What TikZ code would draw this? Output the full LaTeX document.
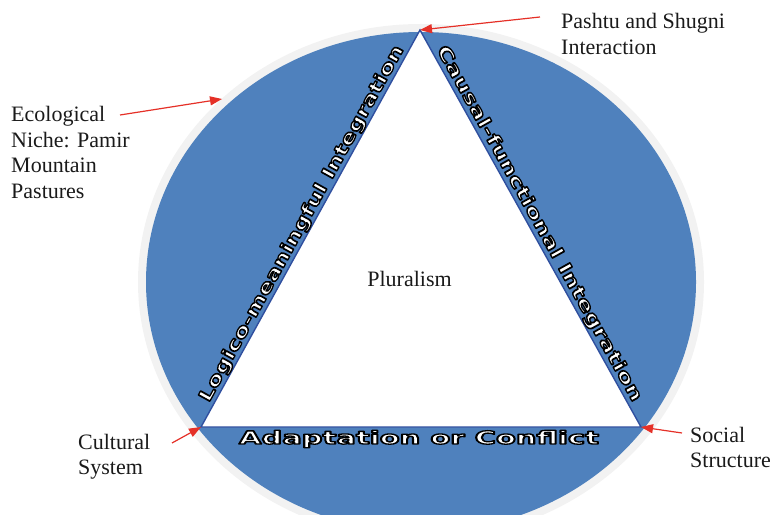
\documentclass[tikz,border=0pt]{standalone}
\usepackage{fontspec}
\setmainfont{Liberation Serif}
\newfontfamily\edgefont{DejaVu Sans}
\usepackage{graphicx}
\usetikzlibrary{arrows.meta}

\definecolor{fillblue}{HTML}{4F81BD}
\definecolor{edgeblue}{HTML}{2F4F9F}
\definecolor{ringgray}{HTML}{F2F2F2}
\definecolor{arrowred}{HTML}{E53027}
\definecolor{labelink}{HTML}{1A1A1A}

% white lettering stroked with a thin black outline (PDF text render mode 2)
\newcommand\haloText[1]{\leavevmode
  {\color{white}%
   \special{pdf:code 2 Tr 1.3 w 1 j 0 0 0 RG}%
   #1%
   \special{pdf:code 0 Tr}}}

\begin{document}
\begin{tikzpicture}[x=1pt,y=1pt,
  sidenote/.style={inner sep=0pt, anchor=base west, text=labelink,
    font=\fontsize{22}{25.5}\selectfont},
  pointer/.style={draw=arrowred, line width=1.2pt,
    -{Triangle[length=12pt,width=9pt]}},
  edgetext/.style={inner sep=0pt, anchor=base,
    font=\edgefont\bfseries\fontsize{18}{20}\selectfont}]

\useasboundingbox (0,0) rectangle (775,514);
\clip (0,0) rectangle (775,514);

% outer ring and blue disc
\fill[ringgray] (421,232) ellipse [x radius=283, y radius=258];
\fill[fillblue] (421,232) ellipse [x radius=275, y radius=250];

% triangle
\coordinate (apex) at (420,484);
\coordinate (cult) at (201,87);
\coordinate (soc)  at (641,87);
\filldraw[fill=white, draw=edgeblue, line width=1.4pt, line join=miter]
  (apex) -- (cult) -- (soc) -- cycle;

% lettering along the sides
\node[edgetext, rotate=61.12] (logico) at (306.4,287.8)
  {\resizebox{404pt}{\height}{\haloText{Logico-meaningful Integration}}};
\node[edgetext, rotate=-60.9] (causal) at (534.6,287.8)
  {\resizebox{404pt}{\height}{\haloText{Causal-functional Integration}}};
\node[edgetext] (adapt) at (419,70)
  {\resizebox{360pt}{\height}{\haloText{Adaptation or Conflict}}};

\node[text=labelink, font=\fontsize{22}{25.5}\selectfont, anchor=base, inner sep=0pt]
  (plural) at (409.5,227) {Pluralism};

% outside notes
\node[sidenote] (pashtu) at (561,485)
  {\begin{tabular}[t]{@{}l@{}}Pashtu and Shugni\\Interaction\end{tabular}};
\node[sidenote] (niche) at (11,392)
  {\begin{tabular}[t]{@{}l@{}}Ecological\\Niche: Pamir\\Mountain\\Pastures\end{tabular}};
\node[sidenote] (cultural) at (78,65)
  {\begin{tabular}[t]{@{}l@{}}Cultural\\System\end{tabular}};
\node[sidenote] (social) at (690,72)
  {\begin{tabular}[t]{@{}l@{}}Social\\Structure\end{tabular}};

% pointers
\coordinate (pashtuFrom) at (540,497);
\coordinate (nicheFrom)  at (120,399);
\coordinate (nicheTo)    at (222,415);
\coordinate (cultFrom)   at (172,71);
\coordinate (socFrom)    at (682,81);
\draw[pointer] (pashtuFrom) -- (apex);
\draw[pointer] (nicheFrom) -- (nicheTo);
\draw[pointer] (cultFrom) -- (cult);
\draw[pointer] (socFrom) -- (soc);
\end{tikzpicture}
\end{document}
